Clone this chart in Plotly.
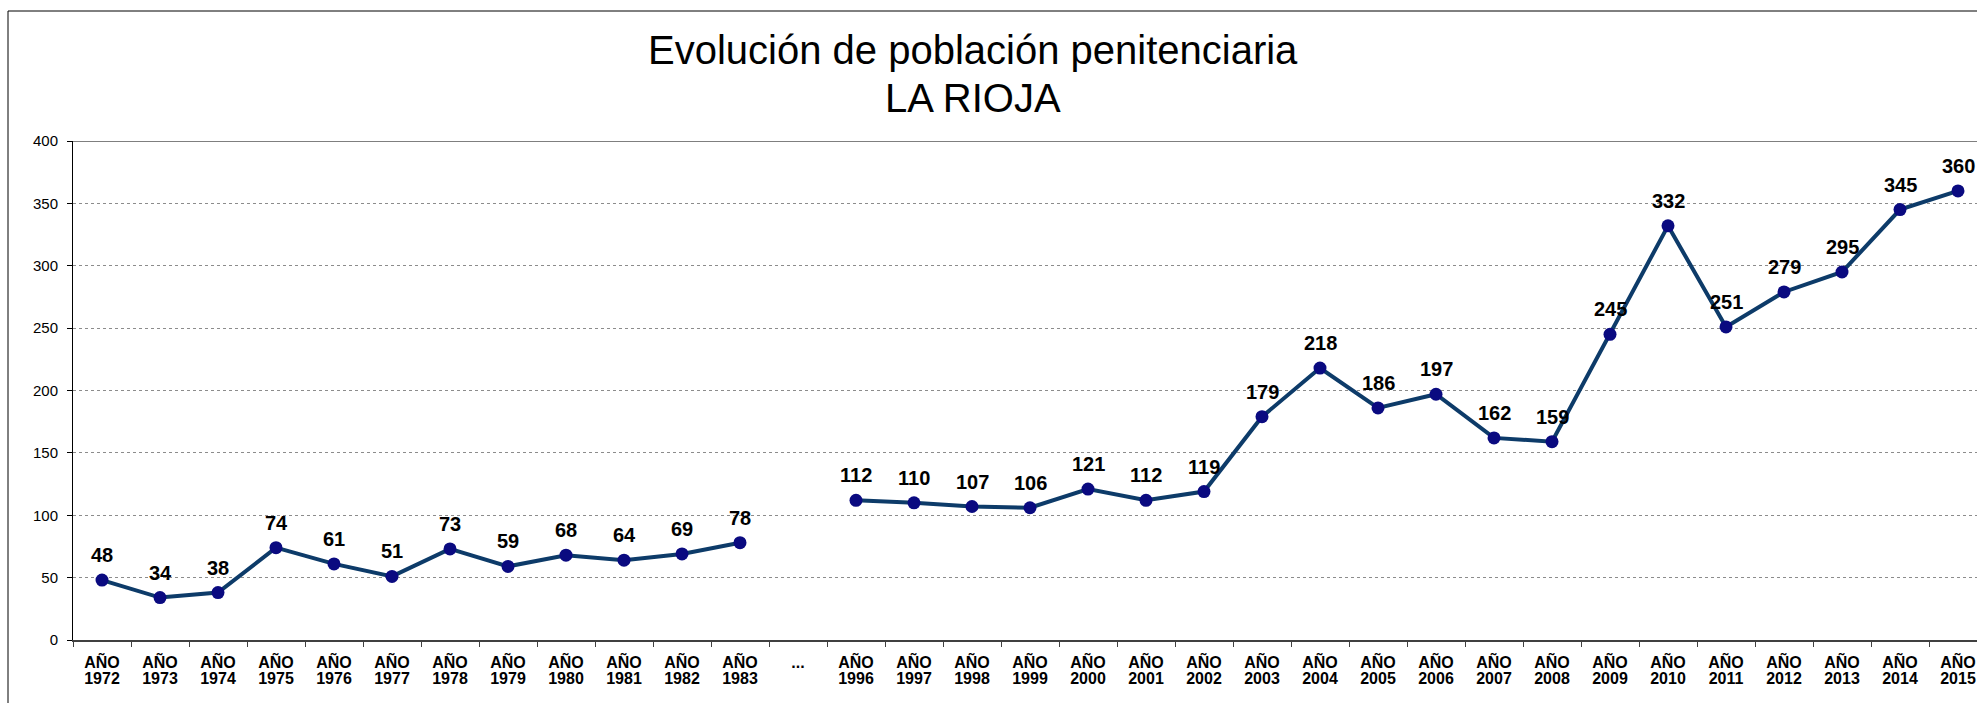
import plotly.graph_objects as go

# Series data
years = ["1972", "1973", "1974", "1975", "1976", "1977", "1978", "1979", "1980",
         "1981", "1982", "1983", "...", "1996", "1997", "1998", "1999", "2000",
         "2001", "2002", "2003", "2004", "2005", "2006", "2007", "2008", "2009",
         "2010", "2011", "2012", "2013", "2014", "2015"]
population = [48, 34, 38, 74, 61, 51, 73, 59, 68, 64, 69, 78, None,
              112, 110, 107, 106, 121, 112, 119, 179, 218, 186, 197, 162, 159,
              245, 332, 251, 279, 295, 345, 360]
y_ticks = [0, 50, 100, 150, 200, 250, 300, 350, 400]

title_line1 = "Evolución de población penitenciaria"
title_line2 = "LA RIOJA"

# two-row category labels: "AÑO" on top, the year underneath
top_row = ["..." if y == "..." else "AÑO" for y in years]
bottom_row = ["" if y == "..." else y for y in years]

FONT = "Liberation Sans, Arial, sans-serif"
W, H = 1977, 703
M_L, M_R, M_T, M_B = 73, 0, 141, 63
PLOT_W = W - M_L - M_R
PLOT_H = H - M_T - M_B
CAT_PX = 58.0


def px_to_paper_x(px):
    return (px - M_L) / PLOT_W


def px_to_paper_y(py):
    return (H - M_B - py) / PLOT_H


fig = go.Figure()
fig.add_trace(go.Scatter(
    x=years,
    y=population,
    mode="lines+markers",
    line=dict(color="#0d3b69", width=4),
    marker=dict(color="#0a0a80", size=13, line=dict(width=0)),
    connectgaps=False,
    cliponaxis=False,
    hoverinfo="x+y",
))
# carrier trace for the year row of the category axis
fig.add_trace(go.Scatter(
    x=years, y=population, xaxis="x2", mode="markers",
    marker=dict(opacity=0), hoverinfo="skip", showlegend=False,
))

x_max = -0.5 + PLOT_W / CAT_PX

# value labels above each point (x given as category index)
value_labels = [
    dict(x=i, y=v, xref="x", yref="y", text=str(v), showarrow=False,
         xanchor="center", yanchor="middle", yshift=25,
         font=dict(family=FONT, size=20, color="#000000", weight="bold"))
    for i, v in enumerate(population) if v is not None
]

title_labels = [
    dict(text=title_line1, xref="paper", yref="paper",
         x=px_to_paper_x(973), y=px_to_paper_y(50),
         xanchor="center", yanchor="middle", showarrow=False,
         font=dict(family=FONT, size=40, color="#000000")),
    dict(text=title_line2, xref="paper", yref="paper",
         x=px_to_paper_x(973), y=px_to_paper_y(98),
         xanchor="center", yanchor="middle", showarrow=False,
         font=dict(family=FONT, size=40, color="#000000")),
]

cat_axis = dict(
    type="category",
    categoryorder="array",
    categoryarray=years,
    range=[-0.5, x_max],
    showgrid=False,
    zeroline=False,
    fixedrange=True,
)

fig.update_layout(
    width=W,
    height=H,
    margin=dict(l=M_L, r=M_R, t=M_T, b=M_B, autoexpand=False),
    paper_bgcolor="#ffffff",
    plot_bgcolor="#ffffff",
    showlegend=False,
    font=dict(family=FONT, color="#000000"),
    xaxis=dict(
        **cat_axis,
        tickmode="array",
        tickvals=years,
        ticktext=top_row,
        tickson="boundaries",
        ticks="outside",
        ticklen=5,
        tickwidth=1,
        tickcolor="#404040",
        showline=True,
        linecolor="#404040",
        linewidth=2,
        tickfont=dict(family=FONT, size=16, color="#000000", weight="bold"),
        ticklabelstandoff=7,
    ),
    xaxis2=dict(
        **cat_axis,
        overlaying="x",
        anchor="y",
        side="bottom",
        tickmode="array",
        tickvals=years,
        ticktext=bottom_row,
        ticks="",
        ticklen=5,
        showline=False,
        tickfont=dict(family=FONT, size=16, color="#000000", weight="bold"),
        ticklabelstandoff=27,
    ),
    yaxis=dict(
        range=[0, 400],
        tickvals=y_ticks,
        ticks="outside",
        ticklen=5,
        tickwidth=1,
        tickcolor="#000000",
        showline=True,
        linecolor="#000000",
        linewidth=1,
        showgrid=True,
        gridcolor="#8c8c8c",
        gridwidth=1,
        griddash="dot",
        zeroline=False,
        tickfont=dict(family=FONT, size=15, color="#000000"),
        ticklabelstandoff=6,
        fixedrange=True,
    ),
    shapes=[
        # outer chart frame
        dict(type="rect", xref="paper", yref="paper",
             x0=px_to_paper_x(8), x1=px_to_paper_x(W + 20),
             y0=px_to_paper_y(H + 20), y1=px_to_paper_y(11),
             line=dict(color="#000000", width=1), fillcolor="rgba(0,0,0,0)",
             layer="below"),
        # top border of the plot area
        dict(type="line", xref="paper", yref="y",
             x0=0, x1=1, y0=400, y1=400,
             line=dict(color="#000000", width=1)),
    ],
    annotations=title_labels + value_labels,
)

fig.write_html("out.html")
